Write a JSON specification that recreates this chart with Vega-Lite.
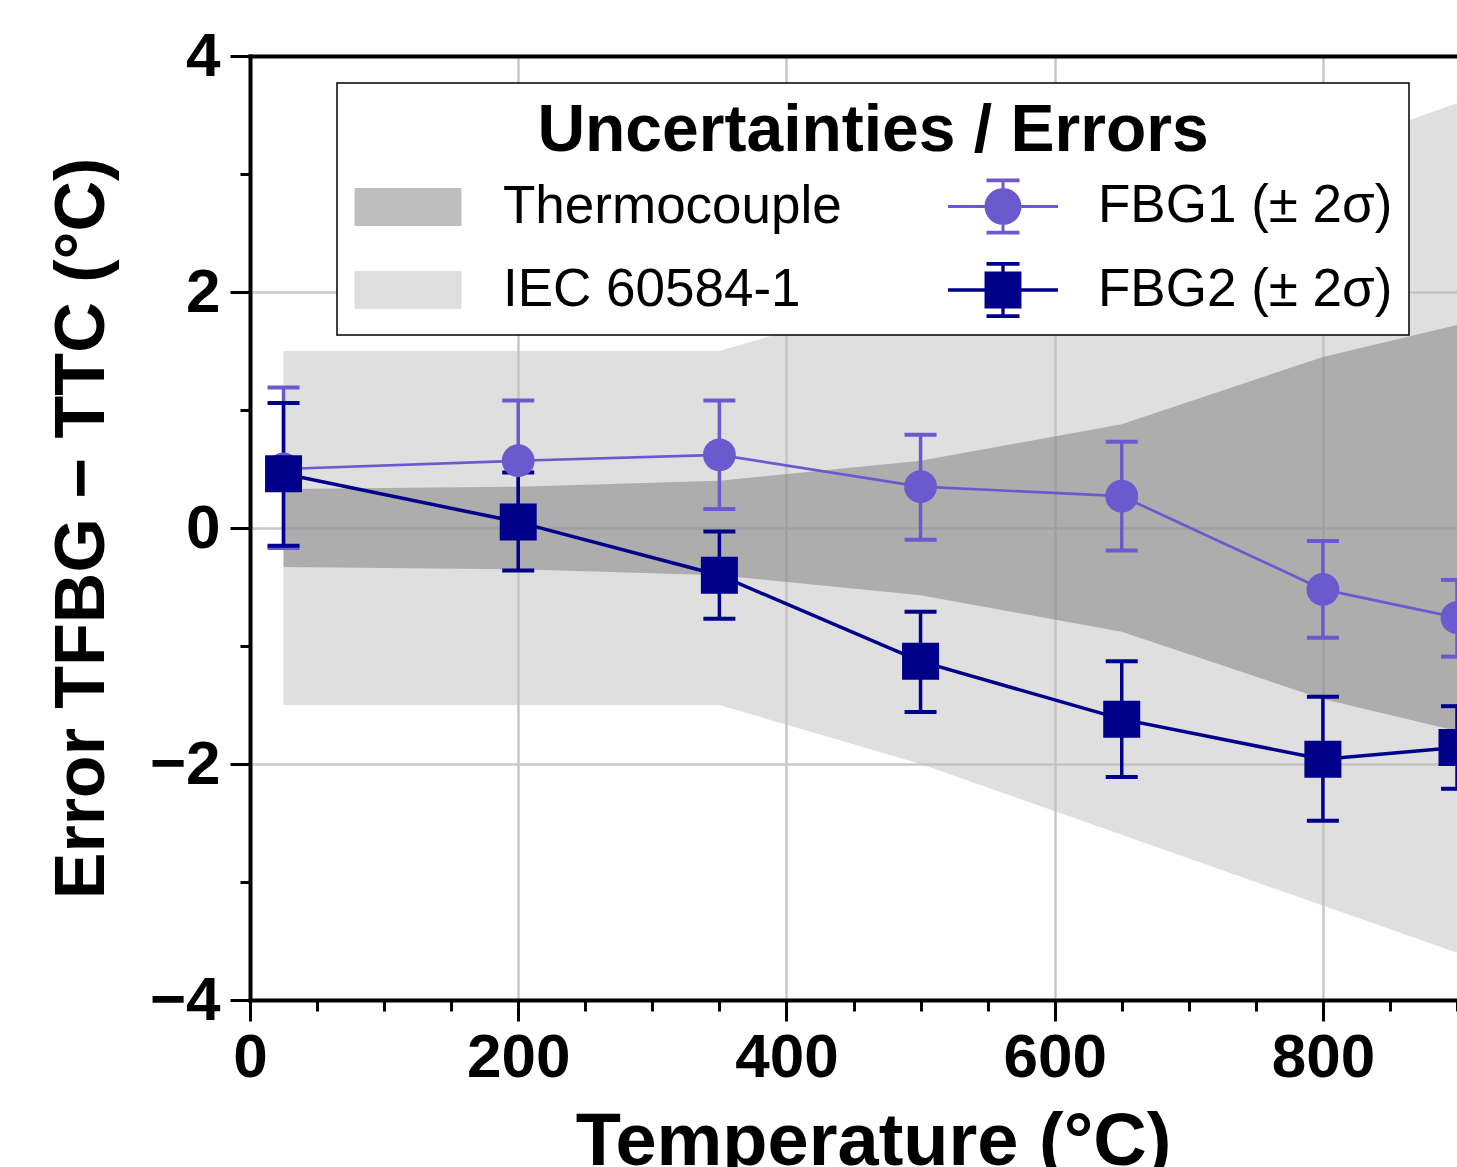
{
  "$schema": "https://vega.github.io/schema/vega-lite/v6.json",
  "width": 1207,
  "height": 944,
  "autosize": {"type": "none"},
  "padding": {"left": 250, "top": 56, "right": 0, "bottom": 167},
  "background": "white",
  "config": {
    "font": "Liberation Sans",
    "view": {"stroke": null},
    "axis": {
      "domainColor": "black",
      "domainWidth": 4,
      "domainCap": "square",
      "tickColor": "black",
      "tickWidth": 3,
      "labelColor": "black",
      "labelFontSize": 62,
      "labelFontWeight": "bold",
      "labelFont": "Liberation Sans",
      "titleFont": "Liberation Sans",
      "titleColor": "black",
      "titleFontWeight": "bold",
      "gridColor": "#c8c8c8",
      "gridWidth": 2.5,
      "labelFlush": false,
      "labelOverlap": false,
      "labelBound": false
    }
  },
  "datasets": {
    "bands": [
      {"band": "IEC 60584-1", "T": 25, "lo": -1.5, "hi": 1.5},
      {"band": "IEC 60584-1", "T": 200, "lo": -1.5, "hi": 1.5},
      {"band": "IEC 60584-1", "T": 350, "lo": -1.5, "hi": 1.5},
      {"band": "IEC 60584-1", "T": 500, "lo": -2.0, "hi": 2.0},
      {"band": "IEC 60584-1", "T": 650, "lo": -2.6, "hi": 2.6},
      {"band": "IEC 60584-1", "T": 800, "lo": -3.2, "hi": 3.2},
      {"band": "IEC 60584-1", "T": 900, "lo": -3.6, "hi": 3.6},
      {"band": "Thermocouple", "T": 25, "lo": -0.33, "hi": 0.33},
      {"band": "Thermocouple", "T": 200, "lo": -0.35, "hi": 0.35},
      {"band": "Thermocouple", "T": 350, "lo": -0.40, "hi": 0.40},
      {"band": "Thermocouple", "T": 500, "lo": -0.57, "hi": 0.57},
      {"band": "Thermocouple", "T": 650, "lo": -0.88, "hi": 0.88},
      {"band": "Thermocouple", "T": 800, "lo": -1.45, "hi": 1.45},
      {"band": "Thermocouple", "T": 900, "lo": -1.72, "hi": 1.72}
    ],
    "fbg": [
      {"series": "FBG1 (± 2σ)", "T": 25, "mean": 0.50, "lo": -0.17, "hi": 1.19},
      {"series": "FBG1 (± 2σ)", "T": 200, "mean": 0.57, "lo": 0.07, "hi": 1.08},
      {"series": "FBG1 (± 2σ)", "T": 350, "mean": 0.62, "lo": 0.16, "hi": 1.08},
      {"series": "FBG1 (± 2σ)", "T": 500, "mean": 0.35, "lo": -0.10, "hi": 0.79},
      {"series": "FBG1 (± 2σ)", "T": 650, "mean": 0.27, "lo": -0.19, "hi": 0.73},
      {"series": "FBG1 (± 2σ)", "T": 800, "mean": -0.52, "lo": -0.93, "hi": -0.11},
      {"series": "FBG1 (± 2σ)", "T": 900, "mean": -0.76, "lo": -1.09, "hi": -0.44},
      {"series": "FBG2 (± 2σ)", "T": 25, "mean": 0.46, "lo": -0.15, "hi": 1.06},
      {"series": "FBG2 (± 2σ)", "T": 200, "mean": 0.05, "lo": -0.36, "hi": 0.47},
      {"series": "FBG2 (± 2σ)", "T": 350, "mean": -0.40, "lo": -0.77, "hi": -0.03},
      {"series": "FBG2 (± 2σ)", "T": 500, "mean": -1.13, "lo": -1.56, "hi": -0.71},
      {"series": "FBG2 (± 2σ)", "T": 650, "mean": -1.62, "lo": -2.11, "hi": -1.13},
      {"series": "FBG2 (± 2σ)", "T": 800, "mean": -1.96, "lo": -2.48, "hi": -1.43},
      {"series": "FBG2 (± 2σ)", "T": 900, "mean": -1.86, "lo": -2.21, "hi": -1.51}
    ]
  },
  "layer": [
    {
      "data": {"name": "bands"},
      "transform": [{"filter": "datum.band === 'IEC 60584-1'"}],
      "mark": {"type": "area", "fill": "#bfbfbf", "opacity": 0.5},
      "encoding": {
        "x": {
          "field": "T", "type": "quantitative",
          "scale": {"domain": [0, 900], "nice": false, "zero": false},
          "axis": {
            "orient": "bottom",
            "values": [0, 50, 100, 150, 200, 250, 300, 350, 400, 450, 500, 550, 600, 650, 700, 750, 800, 850, 900],
            "format": "d",
            "labelExpr": "datum.value % 200 === 0 ? datum.label : ''",
            "tickSize": {"condition": {"test": "datum.value % 200 === 0", "value": 21}, "value": 11},
            "gridOpacity": {"condition": {"test": "datum.value % 200 === 0 && datum.value > 0", "value": 1}, "value": 0},
            "grid": true,
            "labelPadding": 6,
            "title": "Temperature (°C)",
            "titleFontSize": 74,
            "titlePadding": 18,
            "titleX": 623
          }
        },
        "y": {
          "field": "lo", "type": "quantitative",
          "scale": {"domain": [-4, 4], "nice": false, "zero": false},
          "axis": {
            "orient": "left",
            "values": [-4, -3.5, -3, -2.5, -2, -1.5, -1, -0.5, 0, 0.5, 1, 1.5, 2, 2.5, 3, 3.5, 4],
            "format": "d",
            "labelExpr": "datum.value % 2 === 0 ? datum.label : ''",
            "tickSize": {"condition": {"test": "datum.value % 2 === 0", "value": 20}, "value": 10},
            "gridOpacity": {"condition": {"test": "datum.value % 2 === 0 && abs(datum.value) < 4", "value": 1}, "value": 0},
            "grid": true,
            "labelPadding": 10,
            "title": "Error TFBG − TTC (°C)",
            "titleFontSize": 70,
            "titlePadding": 31
          }
        },
        "y2": {"field": "hi"}
      }
    },
    {
      "data": {"name": "bands"},
      "transform": [{"filter": "datum.band === 'Thermocouple'"}],
      "mark": {"type": "area", "fill": "#797979", "opacity": 0.485},
      "encoding": {
        "x": {"field": "T", "type": "quantitative", "axis": null},
        "y": {"field": "lo", "type": "quantitative"},
        "y2": {"field": "hi"}
      }
    },
    {
      "data": {"name": "fbg"},
      "mark": {"type": "rule", "strokeWidth": 3.5},
      "encoding": {
        "x": {"field": "T", "type": "quantitative", "axis": null},
        "y": {"field": "lo", "type": "quantitative"},
        "y2": {"field": "hi"},
        "color": {
          "field": "series", "type": "nominal",
          "scale": {
            "domain": ["Thermocouple", "IEC 60584-1", "FBG1 (± 2σ)", "FBG2 (± 2σ)"],
            "range": ["#bebebe", "#dedede", "#6a5acd", "#00008b"]
          },
          "legend": {
            "title": "Uncertainties / Errors",
            "orient": "none",
            "legendX": 87,
            "legendY": 27,
            "columns": 2,
            "columnPadding": 106,
            "rowPadding": -15,
            "padding": 16,
            "strokeColor": "black",
            "fillColor": "white",
            "titleFontSize": 66,
            "titleFontWeight": "bold",
            "titleColor": "black",
            "titleAnchor": "middle",
            "titleAlign": "center",
            "titleLimit": 3000,
            "titlePadding": -14,
            "labelFontSize": 53,
            "labelColor": "black",
            "labelOffset": 40,
            "labelLimit": 1000,
            "symbolSize": 12100,
            "symbolStrokeWidth": 0,
            "symbolOpacity": 1,
            "encode": {
              "legend": {"update": {"strokeWidth": {"value": 1.5}}},
              "symbols": {
                "update": {
                  "shape": {"signal": "indexof(datum.value, 'FBG1') >= 0 ? 'M-1,-0.027H1V0.027H-1Z M-0.027,-0.49H0.027V0.49H-0.027Z M-0.3,-0.51H0.3V-0.44H-0.3Z M-0.3,0.44H0.3V0.51H-0.3Z M-0.336,0A0.336,0.336 0 1,1 0.336,0A0.336,0.336 0 1,1 -0.336,0Z' : indexof(datum.value, 'FBG2') >= 0 ? 'M-1,-0.03H1V0.03H-1Z M-0.03,-0.49H0.03V0.49H-0.03Z M-0.3,-0.51H0.3V-0.44H-0.3Z M-0.3,0.44H0.3V0.51H-0.3Z M-0.336,-0.336H0.336V0.336H-0.336Z' : 'M-0.973,-0.345H0.973V0.345H-0.973Z'"},
                  "fill": {"scale": "color", "field": "value"},
                  "stroke": {"value": "transparent"},
                  "strokeWidth": {"value": 0},
                  "opacity": {"value": 1},
                  "size": {"value": 12100}
                }
              }
            }
          }
        }
      }
    },
    {
      "data": {"name": "fbg"},
      "mark": {"type": "tick", "orient": "horizontal", "size": 32, "thickness": 4, "opacity": 1},
      "encoding": {
        "x": {"field": "T", "type": "quantitative", "axis": null},
        "y": {"field": "lo", "type": "quantitative"},
        "color": {"field": "series", "type": "nominal"}
      }
    },
    {
      "data": {"name": "fbg"},
      "mark": {"type": "tick", "orient": "horizontal", "size": 32, "thickness": 4, "opacity": 1},
      "encoding": {
        "x": {"field": "T", "type": "quantitative", "axis": null},
        "y": {"field": "hi", "type": "quantitative"},
        "color": {"field": "series", "type": "nominal"}
      }
    },
    {
      "data": {"name": "fbg"},
      "transform": [{"filter": "datum.series === 'FBG1 (± 2σ)'"}],
      "mark": {"type": "line", "strokeWidth": 2.7},
      "encoding": {
        "x": {"field": "T", "type": "quantitative",
          "axis": {"orient": "top", "labels": false, "ticks": false, "domain": true, "grid": false, "title": null}},
        "y": {"field": "mean", "type": "quantitative"},
        "color": {"field": "series", "type": "nominal"}
      }
    },
    {
      "data": {"name": "fbg"},
      "transform": [{"filter": "datum.series === 'FBG2 (± 2σ)'"}],
      "mark": {"type": "line", "strokeWidth": 3.5},
      "encoding": {
        "x": {"field": "T", "type": "quantitative", "axis": null},
        "y": {"field": "mean", "type": "quantitative"},
        "color": {"field": "series", "type": "nominal"}
      }
    },
    {
      "data": {"name": "fbg"},
      "transform": [{"filter": "datum.series === 'FBG1 (± 2σ)'"}],
      "mark": {"type": "point", "shape": "circle", "filled": true, "size": 1075, "opacity": 1},
      "encoding": {
        "x": {"field": "T", "type": "quantitative", "axis": null},
        "y": {"field": "mean", "type": "quantitative"},
        "color": {"field": "series", "type": "nominal"}
      }
    },
    {
      "data": {"name": "fbg"},
      "transform": [{"filter": "datum.series === 'FBG2 (± 2σ)'"}],
      "mark": {"type": "point", "shape": "square", "filled": true, "size": 1369, "opacity": 1},
      "encoding": {
        "x": {"field": "T", "type": "quantitative", "axis": null},
        "y": {"field": "mean", "type": "quantitative"},
        "color": {"field": "series", "type": "nominal"}
      }
    }
  ]
}
